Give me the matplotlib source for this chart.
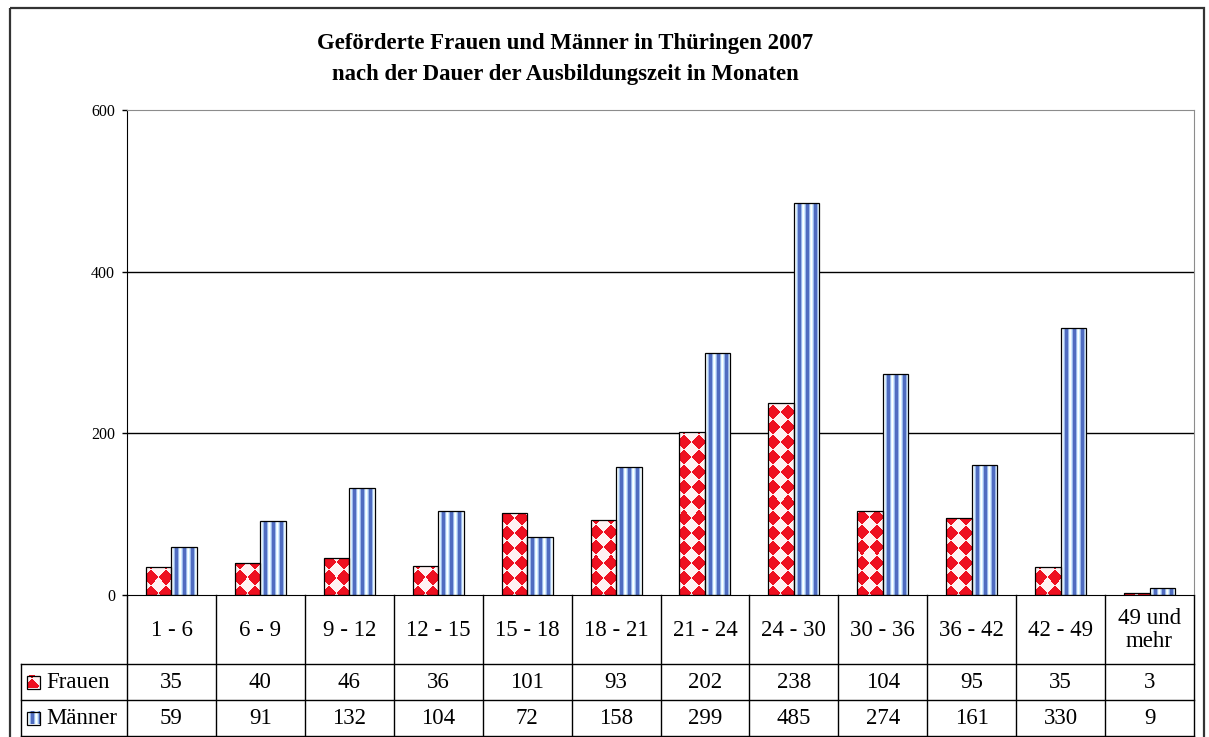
import matplotlib
matplotlib.use("Agg")
import matplotlib.pyplot as plt
from matplotlib.colors import to_rgb
from matplotlib.patches import Rectangle
import numpy as np

categories = ["1 - 6", "6 - 9", "9 - 12", "12 - 15", "15 - 18", "18 - 21",
              "21 - 24", "24 - 30", "30 - 36", "36 - 42", "42 - 49", "49 und\nmehr"]
frauen = [35, 40, 46, 36, 101, 93, 202, 238, 104, 95, 35, 3]
maenner = [59, 91, 132, 104, 72, 158, 299, 485, 274, 161, 330, 9]
series_names = ["Frauen", "Männer"]
y_ticks = [0, 200, 400, 600]

title_1 = "Geförderte Frauen und Männer in Thüringen 2007"
title_2 = "nach der Dauer der Ausbildungszeit in Monaten"

plt.rcParams["font.family"] = ["Liberation Serif", "DejaVu Serif"]

W, H = 1209, 737
fig = plt.figure(figsize=(W / 100, H / 100), dpi=100, facecolor="white")


def px(x0, y0, x1, y1):
    return [x0 / W, 1 - y1 / H, (x1 - x0) / W, (y1 - y0) / H]


# fill textures, built per pixel of the target area
RED, PINK = np.array(to_rgb("#EE1020")), np.array(to_rgb("#FFF2F2"))
STRIPE = [to_rgb(c) for c in ("#4F6CC0", "#4F6CC0", "#4F6CC0", "#9DB8EA",
                              "#E4F8FF", "#FFFFFF", "#D2EEFF", "#9DB8EA")]


def diamonds(nr, nc, p=15.0):
    yy, xx = np.mgrid[0:nr, 0:nc]
    yb = nr - 1 - yy + 0.5
    u = np.floor((xx + 0.5 + yb) / p)
    v = np.floor((xx + 0.5 - yb + 4) / p)
    red = ((u + v) % 2 == 0)[..., None]
    return np.where(red, RED, PINK)


def stripes(nr, nc):
    cols = np.array([STRIPE[(j + 4) % len(STRIPE)] for j in range(nc)])
    return np.broadcast_to(cols, (nr, nc, 3))


def textured_bars(axis, bars, tex):
    for b in bars:
        l, bt = b.get_x(), b.get_y()
        r, tp = l + b.get_width(), bt + b.get_height()
        p0, p1 = axis.transData.transform([(l, bt), (r, tp)])
        nc = max(1, int(round(p1[0] - p0[0])))
        nr = max(1, int(round(p1[1] - p0[1])))
        im = axis.imshow(tex(nr, nc), extent=(l, r, bt, tp), origin="upper",
                         interpolation="nearest", aspect="auto", zorder=2)
        im.set_clip_path(b)


# overlay in pixel coordinates for frame, title and table
ov = fig.add_axes([0, 0, 1, 1], zorder=0)
ov.set_xlim(0, W)
ov.set_ylim(H, 0)
ov.axis("off")

ax = fig.add_axes(px(127, 110, 1194, 595), zorder=1)
ax.patch.set_alpha(0)
ax.set_xlim(-0.5, len(categories) - 0.5)
ax.set_ylim(y_ticks[0], y_ticks[-1])

x = np.arange(len(categories))
w = 0.287
fb = ax.bar(x - w / 2, frauen, w, facecolor="none", edgecolor="black", linewidth=0.9, zorder=3)
mb = ax.bar(x + w / 2, maenner, w, facecolor="none", edgecolor="black", linewidth=0.9, zorder=3)
textured_bars(ax, fb, diamonds)
textured_bars(ax, mb, stripes)

for yv in y_ticks[1:-1]:
    ax.axhline(yv, color="black", linewidth=1, zorder=0)

ax.set_xlim(-0.5, len(categories) - 0.5)
ax.set_ylim(y_ticks[0], y_ticks[-1])
ax.set_yticks(y_ticks)
ax.set_xticks([])
ax.tick_params(axis="y", direction="out", length=3.6, width=1, labelsize=11.5, pad=5)
for side in ("top", "right"):
    ax.spines[side].set_color("#8c8c8c")
for side in ("left", "bottom"):
    ax.spines[side].set_color("black")

# title
ov.text(565, 49, title_1, ha="center", va="baseline", fontsize=16.4, fontweight="bold")
ov.text(565, 80, title_2, ha="center", va="baseline", fontsize=16.4, fontweight="bold")

# outer frame
ov.add_patch(Rectangle((10, 8), 1194, 760, fill=False, edgecolor="#333333", linewidth=1.6))

# data table
x0, x1 = 127, 1194
cw = (x1 - x0) / len(categories)
rows = [(595, 664), (664, 700), (700, 736)]
for k in range(len(categories) + 1):
    ov.plot([x0 + k * cw] * 2, [595, 736], color="black", linewidth=1)
ov.plot([21, 21], [664, 736], color="black", linewidth=1)
for yl in (664, 700, 736):
    ov.plot([21, x1], [yl, yl], color="black", linewidth=1)

fs = 16.5
for i, cat in enumerate(categories):
    cx = x0 + (i + 0.5) * cw
    ov.text(cx, 630, cat, ha="center", va="center", fontsize=fs, linespacing=1.15)
    ov.text(cx, 683, str(frauen[i]), ha="center", va="center", fontsize=fs)
    ov.text(cx, 719, str(maenner[i]), ha="center", va="center", fontsize=fs)

for (top, bot), name, tex in zip(rows[1:], series_names, (diamonds, stripes)):
    cy = (top + bot) / 2
    ov.imshow(tex(13, 13), extent=(27, 40, cy + 6.5, cy - 6.5), origin="upper",
              interpolation="nearest", aspect="auto")
    ov.add_patch(Rectangle((27, cy - 6.5), 13, 13, fill=False, edgecolor="black", linewidth=0.9))
    ov.text(46, cy + 1, name, ha="left", va="center", fontsize=fs)
ov.set_xlim(0, W)
ov.set_ylim(H, 0)

fig.savefig("out.png", dpi=100, facecolor="white")
